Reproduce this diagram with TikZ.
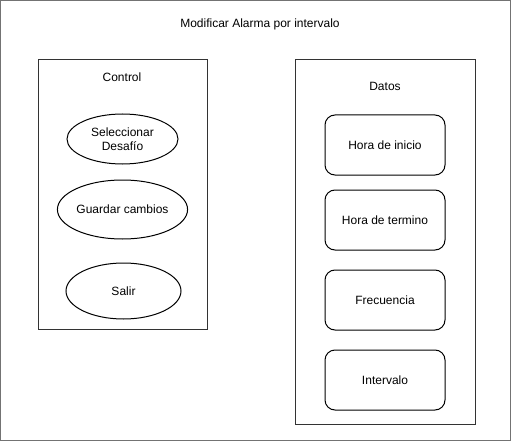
\documentclass[tikz,border=0pt]{standalone}
\usepackage{fontspec}
\setmainfont{Liberation Sans}
\tikzset{
	frame/.style={draw=black!55, line width=1pt},
	panel/.style={draw=black!80, line width=1pt},
	usecase/.style={ellipse, draw=black, line width=1pt, inner sep=0, align=center},
	field/.style={rectangle, rounded corners=10pt, draw=black, line width=1pt, minimum width=120pt, minimum height=60pt, inner sep=0},
	lbl/.style={inner sep=0, font=\fontsize{12}{14}\selectfont}
}
\usetikzlibrary{shapes.geometric}
\begin{document}
\begin{tikzpicture}[x=1pt, y=-1pt, font=\fontsize{12}{14}\selectfont]
		\useasboundingbox (0,0) rectangle (511,441);
		\draw[frame] (0.5,0.5) rectangle (510,440);
		\node[lbl] (title) at (260,24) {Modificar Alarma por intervalo};
		% control
		\draw[panel] (38,60) rectangle (207,329);
		\node[lbl] (control) at (122,77) {Control};
		\node[usecase, minimum width=111pt, minimum height=50pt] (desafio) at (122.5,139) {Seleccionar\\Desafío};
		\node[usecase, minimum width=111pt, minimum height=59pt] (guardar) at (122.5,209.5) {Guardar cambios};
		\node[usecase, minimum width=115pt, minimum height=56pt] (salir) at (123.5,291) {Salir};
		% datos
		\draw[panel] (295,60) rectangle (475,424);
		\node[lbl] (datos) at (385,86) {Datos};
		\node[field] (inicio) at (385,145) {Hora de inicio};
		\node[field] (termino) at (385,220) {Hora de termino};
		\node[field] (frecuencia) at (385,300) {Frecuencia};
		\node[field] (intervalo) at (385,380) {Intervalo};
	\end{tikzpicture}
\end{document}
